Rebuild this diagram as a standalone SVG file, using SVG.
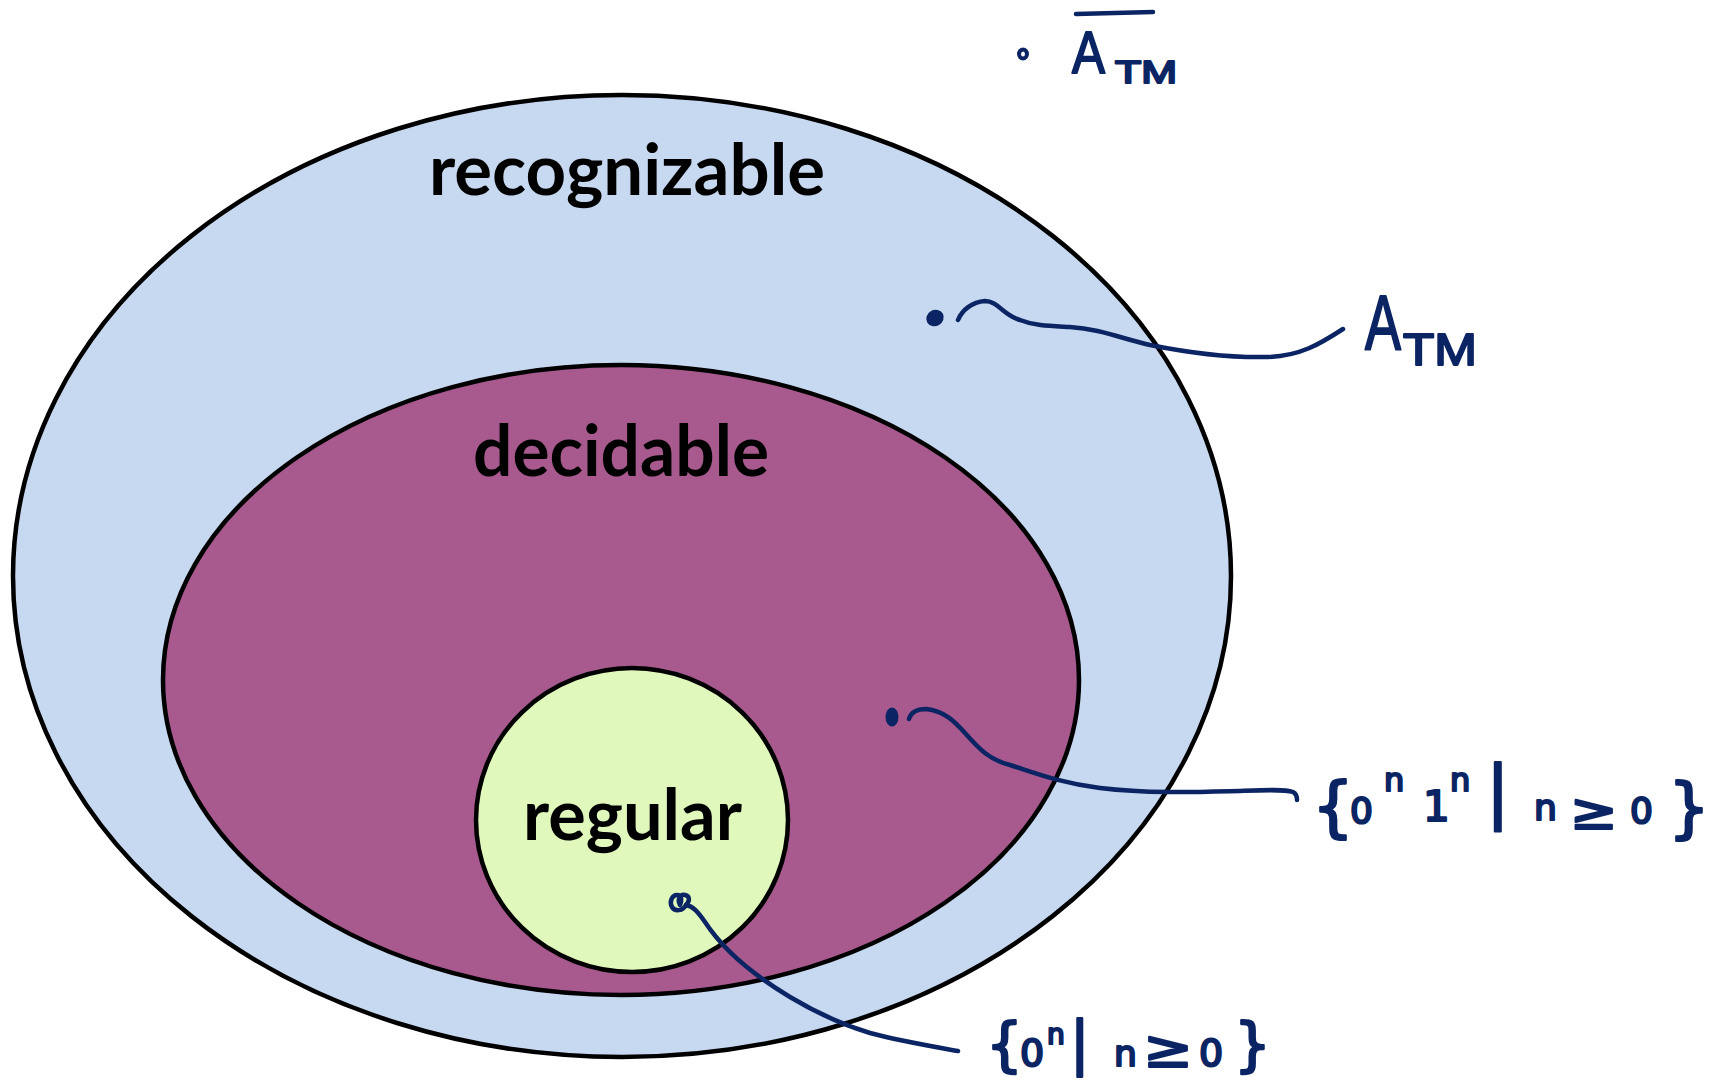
<svg xmlns="http://www.w3.org/2000/svg" width="1715" height="1080" viewBox="0 0 1715 1080">
<style>
.set{stroke:#000;stroke-width:4.5}
.title{font-family:Lato,"Liberation Sans",sans-serif;font-weight:700;font-size:70px;fill:#000;text-anchor:middle}
.ink{fill:none;stroke:#0B2463;stroke-width:4.5;stroke-linecap:round;stroke-linejoin:round}
.dot{fill:#0B2463}
.hand{font-family:"Liberation Sans Narrow","Liberation Sans",sans-serif;fill:#0B2463;stroke:#0B2463;stroke-width:2;stroke-linejoin:round}
.math{font-family:"DejaVu Sans","Liberation Sans",sans-serif;fill:#0B2463;stroke:#0B2463;stroke-width:2.2;stroke-linejoin:round}
</style>
<rect width="1715" height="1080" fill="#fff"/>
<g id="recognizable">
<ellipse class="set" cx="622" cy="576" rx="609" ry="481" fill="#C6D9F0"/>
<text class="title" x="627" y="195" textLength="396" lengthAdjust="spacingAndGlyphs">recognizable</text>
</g>
<g id="decidable">
<ellipse class="set" cx="621" cy="680" rx="458" ry="315" fill="#A85A8F"/>
<text class="title" x="621" y="476" textLength="296" lengthAdjust="spacingAndGlyphs">decidable</text>
</g>
<g id="regular">
<ellipse class="set" cx="632" cy="820" rx="156" ry="152" fill="#E0F8BB"/>
<text class="title" x="632.5" y="840" textLength="219" lengthAdjust="spacingAndGlyphs">regular</text>
</g>
<g id="points">
<ellipse class="dot" cx="1023" cy="54" rx="6" ry="6.5"/>
<ellipse cx="1023" cy="54" rx="2" ry="2.5" fill="#fff"/>
<ellipse class="dot" cx="935" cy="318" rx="9" ry="8" transform="rotate(-30 935 318)"/>
<ellipse class="dot" cx="892" cy="717" rx="6.5" ry="9.5"/>
<path class="ink" d="M686 905c-3 6-11 7-14 2s0-12 5-12 5 6 3 10M680 905c-3-6 0-11 5-10s5 6 1 10"/>
</g>
<g id="connectors">
<path class="ink" d="M958 320C962 310 972 302 985 301C998 301 1003 315 1020 320C1035 326 1050 326 1070 327C1100 329 1120 338 1150 345C1190 353 1230 358 1268 357C1300 356 1320 344 1343 329"/>
<path class="ink" d="M909 719C911 712 918 709 926 709C945 711 955 722 965 733C980 750 990 760 1010 765C1035 773 1060 783 1100 788C1150 794 1200 792 1240 791C1265 790 1285 789 1293 792C1297 794 1297 798 1297 800"/>
<path class="ink" d="M686 905C693 906 698 912 705 922C720 945 745 970 790 997C815 1012 840 1024 870 1033C900 1041 930 1046 958 1051"/>
</g>
<g id="label-atm-bar">
<line class="ink" x1="1076" y1="14" x2="1153" y2="12" stroke-width="5"/>
<text class="hand" x="1072" y="73" font-size="60" textLength="33" lengthAdjust="spacingAndGlyphs">A</text>
<text class="hand" x="1115" y="83" font-size="32" textLength="62" lengthAdjust="spacingAndGlyphs">TM</text>
</g>
<g id="label-atm">
<text class="hand" x="1365" y="350" font-size="78" textLength="36" lengthAdjust="spacingAndGlyphs">A</text>
<text class="hand" x="1403" y="365" font-size="45" textLength="74" lengthAdjust="spacingAndGlyphs">TM</text>
</g>
<g id="label-0n1n">
<text class="math"><tspan x="1312" y="829" font-size="66">{</tspan><tspan x="1350" y="823" font-size="36">0</tspan><tspan x="1384" y="791" font-size="32">n</tspan><tspan x="1423" y="821" font-size="42">1</tspan><tspan x="1450" y="791" font-size="32">n</tspan><tspan x="1486" y="815" font-size="70">|</tspan><tspan x="1534" y="820" font-size="36">n</tspan><tspan x="1630" y="823" font-size="36">0</tspan><tspan x="1668" y="830" font-size="66">}</tspan></text>
<text class="math" x="1570" y="829" font-size="50" textLength="48" lengthAdjust="spacingAndGlyphs">≥</text>
</g>
<g id="label-0n">
<text class="math"><tspan x="986" y="1065" font-size="58">{</tspan><tspan x="1020" y="1066" font-size="38">0</tspan><tspan x="1047" y="1044" font-size="28">n</tspan><tspan x="1070" y="1063" font-size="58">|</tspan><tspan x="1114" y="1066" font-size="36">n</tspan><tspan x="1199" y="1066" font-size="38">0</tspan><tspan x="1234" y="1065" font-size="58">}</tspan></text>
<text class="math" x="1143" y="1067" font-size="52" textLength="50" lengthAdjust="spacingAndGlyphs">≥</text>
</g>
</svg>
